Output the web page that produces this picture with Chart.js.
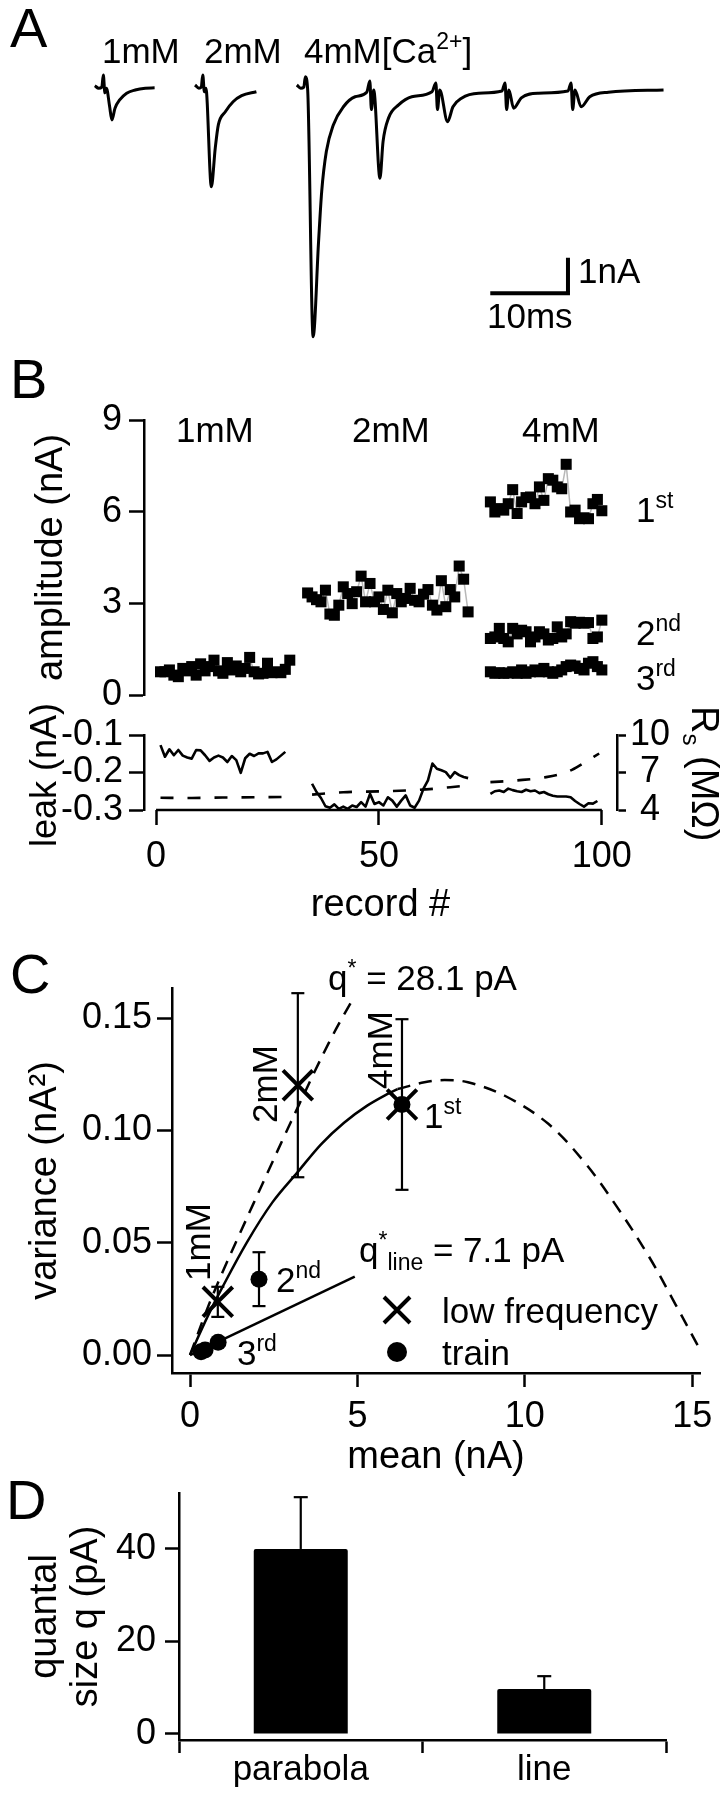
<!DOCTYPE html>
<html>
<head>
<meta charset="utf-8">
<title>Quantal analysis figure</title>
<script src="https://cdn.jsdelivr.net/npm/chart.js@4.4.1/dist/chart.umd.min.js"></script>
<style>
  html, body { margin: 0; padding: 0; background: #fff; }
  #fig { position: relative; width: 725px; height: 1800px; overflow: hidden; }
  #fig canvas { position: absolute; left: 0; }
</style>
</head>
<body>
<div id="fig">
  <canvas id="panelA" width="725" height="360" style="top:0px"></canvas>
  <canvas id="panelB1" width="725" height="370" style="top:360px"></canvas>
  <canvas id="panelB2" width="725" height="230" style="top:700px"></canvas>
  <canvas id="panelC" width="725" height="560" style="top:930px"></canvas>
  <canvas id="panelD" width="725" height="345" style="top:1455px"></canvas>
</div>
<script>
// ---------- A: example EPSC traces (time in ms, current in nA) ----------
const trace1mmT = [12.2, 12.7, 13.1, 13.3, 13.5, 13.7, 14.1, 14.4, 14.8, 15.4, 16.3, 17.4, 18.7, 19.9];
const trace1mmI = [0.12, 0.05, 0.08, 0.42, -0.08, 0.05, -0.45, -0.84, -0.51, -0.28, -0.09, 0.0, 0.05, 0.06];
const trace2mmT = [25.1, 25.6, 25.9, 26.1, 26.3, 26.5, 27.2, 27.7, 28.1, 29.0, 30.0, 31.1, 33.0];
const trace2mmI = [0.14, 0.05, 0.08, 0.42, -0.05, 0.05, -2.72, -1.64, -0.98, -0.61, -0.33, -0.16, -0.05];
const trace4mmT = [38.2, 38.7, 39.1, 39.3, 39.6, 40.3, 41.0, 41.4, 42.0, 42.9, 44.2, 45.7, 47.2,
  47.6, 47.8, 48.1, 48.9, 49.3, 50.0, 51.3, 53.0, 55.6,
  56.1, 56.3, 56.6, 57.6, 58.3, 59.4, 61.6, 64.6,
  65.0, 65.2, 65.5, 66.1, 67.1, 69.3, 73.1,
  73.5, 73.7, 74.0, 74.8, 75.9, 78.3, 85.4];
const trace4mmI = [0.14, 0.05, 0.08, 0.37, 0.0, -6.93, -4.26, -2.86, -1.73, -0.98, -0.47, -0.19, -0.06,
  0.25, -0.55, 0.0, -2.48, -1.45, -0.79, -0.42, -0.19, -0.05,
  0.2, -0.55, 0.0, -0.89, -0.47, -0.23, -0.09, -0.03,
  0.2, -0.55, 0.0, -0.51, -0.22, -0.09, -0.03,
  0.2, -0.55, 0.0, -0.47, -0.19, -0.06, 0.0];
const scaleBarT = [63.1, 73.1, 73.1];   // 10 ms
const scaleBarI = [-5.71, -5.71, -4.71]; // 1 nA

// ---------- B: amplitudes per record ----------
const amp1mmRec = [1,2,3,4,5,6,7,8,9,10,11,12,13,14,15,16,17,18,19,20,21,22,23,24,25,26,27,28,29,30];
const amp1mmVal = [0.76,0.76,0.82,0.65,0.60,0.87,0.79,0.93,0.65,1.02,0.79,0.93,1.14,0.79,0.71,1.06,0.82,0.95,0.76,0.87,1.23,0.76,0.69,0.71,1.04,0.73,0.76,0.73,0.84,1.14];
const amp2mmRec = [34,35,36,37,38,39,40,41,42,43,44,45,46,47,48,49,50,51,52,53,54,55,56,57,58,59,60,61,62,63,64,65,66,67,68,69,70];
const amp2mmVal = [3.34,3.21,3.12,3.05,3.43,2.65,2.61,2.94,3.54,3.32,2.99,3.38,3.89,3.05,3.65,3.05,3.21,2.80,3.43,2.69,3.32,3.05,3.16,3.49,3.10,3.05,3.30,3.45,2.94,2.78,3.74,2.89,3.45,3.21,4.22,3.79,2.72];
const amp4mmRec = [75,76,77,78,79,80,81,82,83,84,85,86,87,88,89,90,91,92,93,94,95,96,97,98,99,100];
const amp4mm1st = [6.32,5.99,6.10,6.05,6.26,6.72,5.94,6.32,6.46,6.48,6.26,6.81,6.37,7.08,7.03,6.81,6.75,7.55,5.99,6.05,5.77,5.80,5.77,6.26,6.40,6.03];
const amp4mm2nd = [1.85,1.90,2.18,1.85,1.74,2.18,2.00,2.12,2.07,1.74,1.90,2.07,2.00,1.80,1.85,2.23,1.90,2.00,2.40,2.35,2.38,2.35,2.37,1.85,1.90,2.45];
const amp4mm3rd = [0.76,0.71,0.73,0.71,0.72,0.76,0.71,0.82,0.71,0.76,0.82,0.76,0.87,0.76,0.71,0.76,0.82,0.93,0.98,0.95,0.87,0.82,1.04,1.09,0.93,0.82];
const ampTicks = [0, 3, 6, 9];

// ---------- B: leak current (nA) and series resistance (MOhm) ----------
const leak1Rec = [1,2,3,4,5,6,7,8,9,10,11,12,13,14,15,16,17,18,19,20,21,22,23,24,25,26,27,28,29];
const leak1Val = [-0.127,-0.158,-0.138,-0.154,-0.140,-0.155,-0.160,-0.163,-0.140,-0.141,-0.154,-0.169,-0.160,-0.155,-0.160,-0.172,-0.156,-0.167,-0.201,-0.162,-0.150,-0.156,-0.149,-0.149,-0.145,-0.172,-0.165,-0.155,-0.145];
const leak2Rec = [35,36,37,38,39,40,41,42,43,44,45,46,47,48,49,50,51,52,53,54,55,56,57,58,59,60,61,62,63,64,65,66,67,68,69,70];
const leak2Val = [-0.230,-0.252,-0.268,-0.290,-0.294,-0.285,-0.297,-0.291,-0.297,-0.288,-0.292,-0.279,-0.291,-0.257,-0.284,-0.279,-0.288,-0.266,-0.275,-0.291,-0.275,-0.261,-0.288,-0.294,-0.275,-0.243,-0.221,-0.176,-0.190,-0.194,-0.199,-0.214,-0.199,-0.207,-0.212,-0.215];
const leak3Rec = [75,76,77,78,79,80,81,82,83,84,85,86,87,88,89,90,91,92,93,94,95,96,97,98,99];
const leak3Val = [-0.257,-0.250,-0.248,-0.252,-0.243,-0.247,-0.250,-0.252,-0.246,-0.250,-0.248,-0.255,-0.252,-0.258,-0.262,-0.264,-0.264,-0.264,-0.266,-0.276,-0.284,-0.291,-0.282,-0.283,-0.276];
const rs1Rec = [1, 8, 15, 22, 29];
const rs1Val = [4.98, 4.96, 5.0, 5.02, 5.04];
const rs2Rec = [35, 42, 51, 59, 66, 70];
const rs2Val = [5.23, 5.42, 5.50, 5.61, 5.82, 5.96];
const rs3Rec = [75, 81, 87.5, 92.7, 95.7, 99.4];
const rs3Val = [6.23, 6.37, 6.63, 7.12, 7.71, 8.52];
const recTicks = [0, 50, 100];
const leakTicks = [-0.3, -0.2, -0.1];
const rsTicks = [4, 7, 10];

// ---------- C: variance vs mean ----------
const lowFreqMean = [0.83, 3.22, 6.33];
const lowFreqVar = [0.0237, 0.1202, 0.1116];
const lowFreqErr = [0.0067, 0.041, 0.038];
const trainMean = [6.33, 2.06, 0.84, 0.45, 0.33];
const trainVar = [0.1116, 0.0338, 0.0057, 0.0022, 0.0015];
const trainErr = [0, 0.012, 0, 0, 0];
const fitLowX = [0, 0.52, 0.96, 1.44, 1.88, 2.37, 2.80, 3.24, 3.73, 4.16, 4.50, 4.88];
const fitLowY = [0, 0.0208, 0.0365, 0.0525, 0.0670, 0.0830, 0.0970, 0.1110, 0.1265, 0.1395, 0.1490, 0.1590];
const fitTrainX = [0, 0.52, 0.96, 1.69, 2.46, 3.22, 3.92, 4.60, 5.28, 5.96, 6.20];
const fitTrainY = [0, 0.017, 0.030, 0.050, 0.068, 0.0816, 0.094, 0.1035, 0.111, 0.1168, 0.1185];
const fitTrainExtX = [6.20, 7.00, 7.60, 8.30, 9.40, 10.7, 11.8, 12.75, 13.7, 14.5, 15.19];
const fitTrainExtY = [0.1185, 0.1215, 0.1225, 0.1215, 0.1155, 0.1030, 0.0855, 0.0660, 0.0440, 0.0225, 0.0035];
const fitLineX = [0, 4.92];
const fitLineY = [0, 0.0349];
const meanTicks = [0, 5, 10, 15];
const varTicks = [0, 0.05, 0.10, 0.15];

// ---------- D: quantal size ----------
const qMethods = ['parabola', 'line'];
const qValues = [40, 9.7];
const qErrors = [11.2, 2.8];
const qTicks = [0, 20, 40];

// ---------- shared helpers ----------
const FONT = "'Liberation Sans', Arial, Helvetica, sans-serif";
const INK = '#000';
const AXW = 2.5;
const TICKF = 36, TITLEF = 38;
Chart.defaults.font.family = FONT;
Chart.defaults.font.size = TICKF;
Chart.defaults.color = INK;
Chart.defaults.animation = false;
Chart.defaults.responsive = false;
Chart.defaults.maintainAspectRatio = false;
Chart.defaults.events = [];
Chart.defaults.plugins.legend.display = false;
Chart.defaults.plugins.tooltip.enabled = false;

const pts = (xs, ys) => xs.map((x, i) => ({ x: x, y: ys[i] }));
const setTicks = vals => s => { s.ticks = vals.map(v => ({ value: v })); };
// fixed box size so the plot area lands where the figure has it
function fixBox(w, h) {
  return s => {
    if (w != null) s.width = w;
    if (h != null) s.height = h;
    s.paddingLeft = s.paddingRight = s.paddingTop = s.paddingBottom = 0;
  };
}
function axisLook(tickLen, pad, size) {
  return {
    border: { display: true, color: INK, width: AXW },
    grid: { drawOnChartArea: false, drawTicks: true, tickLength: tickLen, tickWidth: AXW, tickColor: INK },
    ticks: { color: INK, padding: pad, maxRotation: 0, autoSkip: false, font: { size: size || TICKF } }
  };
}
const axisTitle = (text, pad) => ({ display: true, text: text, color: INK, font: { size: TITLEF }, padding: pad });

// text with super/subscripts: parts = [text, size, dy]
function drawRich(ctx, item, top) {
  ctx.save();
  ctx.translate(item.x, item.y - top);
  if (item.rot) ctx.rotate(item.rot);
  ctx.fillStyle = INK;
  ctx.textBaseline = 'alphabetic';
  ctx.textAlign = 'left';
  let w = 0;
  item.parts.forEach(p => { ctx.font = p[1] + 'px ' + FONT; w += ctx.measureText(p[0]).width; });
  let x = item.align === 'center' ? -w / 2 : 0;
  const shift = item.mid ? 0.36 * item.parts[0][1] : 0;
  item.parts.forEach(p => {
    ctx.font = p[1] + 'px ' + FONT;
    ctx.fillText(p[0], x, (p[2] || 0) + shift);
    x += ctx.measureText(p[0]).width;
  });
  ctx.restore();
}
function textLayer(top, items) {
  return { id: 'textLayer', afterDraw(chart) { items.forEach(it => drawRich(chart.ctx, it, top)); } };
}
const N = 35, SM = 23, BIG = 56;
const sup = t => [t, SM, -14];
const sub = t => [t, SM, 8];

// ---------- Panel A ----------
function traceSet(ts, is) {
  return { data: pts(ts, is), borderColor: INK, borderWidth: 3, pointRadius: 0,
           cubicInterpolationMode: 'monotone', borderJoinStyle: 'round', clip: false };
}
new Chart(document.getElementById('panelA'), {
  type: 'line',
  data: { datasets: [
    traceSet(trace1mmT, trace1mmI),
    traceSet(trace2mmT, trace2mmI),
    traceSet(trace4mmT, trace4mmI),
    { data: pts(scaleBarT, scaleBarI), borderColor: INK, borderWidth: 4, pointRadius: 0, tension: 0, clip: false }
  ] },
  options: {
    layout: { padding: 0 },
    scales: {
      x: { type: 'linear', display: false, min: 0, max: 93.31 },
      y: { type: 'linear', display: false, min: -7.584, max: 2.528 }
    }
  },
  plugins: [textLayer(0, [
    { x: 10, y: 47, parts: [['A', BIG]] },
    { x: 102, y: 63, parts: [['1mM', N]] },
    { x: 204, y: 63, parts: [['2mM', N]] },
    { x: 304, y: 63, parts: [['4mM[Ca', N], sup('2+'), [']', N]] },
    { x: 578, y: 283, parts: [['1nA', N]] },
    { x: 487, y: 328, parts: [['10ms', N]] }
  ])]
});

// ---------- Panel B, amplitudes ----------
const recMin = -2.7, recMax = 103.4;
function ampSet(recs, vals) {
  return { data: pts(recs, vals), borderColor: '#b8b8b8', borderWidth: 1.5, tension: 0,
           pointStyle: 'rect', pointRadius: 7.8, pointBorderWidth: 0,
           pointBackgroundColor: INK, pointBorderColor: INK, clip: false };
}
const b1Y = axisLook(15, 7);
new Chart(document.getElementById('panelB1'), {
  type: 'line',
  data: { datasets: [
    ampSet(amp1mmRec, amp1mmVal), ampSet(amp2mmRec, amp2mmVal),
    ampSet(amp4mmRec, amp4mm1st), ampSet(amp4mmRec, amp4mm2nd), ampSet(amp4mmRec, amp4mm3rd)
  ] },
  options: {
    layout: { padding: { left: 0, top: 60, right: 108, bottom: 35 } },
    scales: {
      x: { type: 'linear', display: false, min: recMin, max: recMax },
      y: Object.assign({}, b1Y, {
        type: 'linear', min: 0, max: 9,
        afterFit: fixBox(144, null), afterBuildTicks: setTicks(ampTicks),
        title: axisTitle('amplitude (nA)', { top: 29 })
      })
    }
  },
  plugins: [textLayer(360, [
    { x: 10, y: 398, parts: [['B', BIG]] },
    { x: 176, y: 442, parts: [['1mM', N]] },
    { x: 352, y: 442, parts: [['2mM', N]] },
    { x: 522, y: 442, parts: [['4mM', N]] },
    { x: 636, y: 522, parts: [['1', N], sup('st')] },
    { x: 636, y: 645, parts: [['2', N], sup('nd')] },
    { x: 636, y: 690, parts: [['3', N], sup('rd')] }
  ])]
});

// ---------- Panel B, leak and Rs ----------
function leakSet(recs, vals) {
  return { data: pts(recs, vals), yAxisID: 'y', borderColor: INK, borderWidth: 2.6, pointRadius: 0,
           tension: 0, borderJoinStyle: 'round', clip: false };
}
function rsSet(recs, vals) {
  return { data: pts(recs, vals), yAxisID: 'y2', borderColor: INK, borderWidth: 2.6, pointRadius: 0,
           borderDash: [13, 14], cubicInterpolationMode: 'monotone', clip: false };
}
const b2X = axisLook(15, 10);
b2X.border = { display: false };
const recordBaseline = {
  id: 'recordBaseline',
  afterDraw(chart) {
    const x = chart.scales.x, ctx = chart.ctx;
    ctx.save();
    ctx.strokeStyle = INK; ctx.lineWidth = AXW;
    ctx.beginPath();
    ctx.moveTo(x.getPixelForValue(recTicks[0]), chart.chartArea.bottom);
    ctx.lineTo(x.getPixelForValue(recTicks[recTicks.length - 1]), chart.chartArea.bottom);
    ctx.stroke();
    ctx.restore();
  }
};
const b2Y = axisLook(15, 6);
const b2Y2 = axisLook(9, 4);
b2Y2.ticks.crossAlign = 'center';
new Chart(document.getElementById('panelB2'), {
  type: 'line',
  data: { datasets: [
    leakSet(leak1Rec, leak1Val), leakSet(leak2Rec, leak2Val), leakSet(leak3Rec, leak3Val),
    rsSet(rs1Rec, rs1Val), rsSet(rs2Rec, rs2Val), rsSet(rs3Rec, rs3Val)
  ] },
  options: {
    layout: { padding: { left: 0, top: 35, right: 0, bottom: 0 } },
    scales: {
      x: Object.assign({}, b2X, {
        type: 'linear', min: recMin, max: recMax,
        afterFit: fixBox(null, 120), afterBuildTicks: setTicks(recTicks),
        title: axisTitle('record #', { bottom: 2 })
      }),
      y: Object.assign({}, b2Y, {
        type: 'linear', position: 'left', min: -0.3, max: -0.1,
        afterFit: fixBox(144, null), afterBuildTicks: setTicks(leakTicks)
      }),
      y2: Object.assign({}, b2Y2, {
        type: 'linear', position: 'right', min: 4, max: 10,
        afterFit: fixBox(108, null), afterBuildTicks: setTicks(rsTicks)
      })
    }
  },
  // the leak title is longer than its short axis, so it is drawn here instead of being squeezed
  plugins: [recordBaseline, textLayer(700, [
    { x: 43, y: 775, rot: -Math.PI / 2, align: 'center', mid: true, parts: [['leak (nA)', 36]] },
    { x: 692, y: 706, rot: Math.PI / 2, parts: [['R', TITLEF], ['s', 24, 9], [' (M\u03A9)', TITLEF]] }
  ])]
});

// ---------- Panel C ----------
function errorBars(xs, ys, es) {
  return xs.map((x, i) => ({ x: x, y: ys[i], e: es[i] })).filter(p => p.e > 0).map(p => ({
    data: [{ x: p.x, y: p.y - p.e }, { x: p.x, y: p.y + p.e }],
    borderColor: INK, borderWidth: 2.2, pointStyle: 'line', pointRadius: 6.5, pointBorderWidth: 2.2,
    pointBorderColor: INK, pointBackgroundColor: INK, order: 1, clip: false
  }));
}
function curve(xs, ys, dashed) {
  return { data: pts(xs, ys), borderColor: INK, borderWidth: 2.5, pointRadius: 0,
           borderDash: dashed ? [13, 9] : [], tension: 0.35, order: 2, clip: false };
}
const legendC = {
  id: 'legendC',
  afterDraw(chart) {
    const ctx = chart.ctx, top = 930, cx = 397, r = 13;
    ctx.save();
    ctx.strokeStyle = INK; ctx.fillStyle = INK; ctx.lineWidth = 4;
    let cy = 1310 - top;
    ctx.beginPath();
    ctx.moveTo(cx - r, cy - r); ctx.lineTo(cx + r, cy + r);
    ctx.moveTo(cx - r, cy + r); ctx.lineTo(cx + r, cy - r);
    ctx.stroke();
    cy = 1352 - top;
    ctx.beginPath(); ctx.arc(cx, cy, 10, 0, Math.PI * 2); ctx.fill();
    ctx.restore();
  }
};
const cX = axisLook(14, 8);
const cY = axisLook(15, 5);
new Chart(document.getElementById('panelC'), {
  type: 'line',
  data: { datasets: [
    { data: pts(lowFreqMean, lowFreqVar), showLine: false, pointStyle: 'crossRot', pointRadius: 21,
      pointBorderWidth: 4, pointBorderColor: INK, pointBackgroundColor: INK, order: 0, clip: false },
    { data: pts(trainMean, trainVar), showLine: false, pointStyle: 'circle', pointRadius: 8.5,
      pointBorderWidth: 0, pointBackgroundColor: INK, order: 0, clip: false },
    ...errorBars(lowFreqMean, lowFreqVar, lowFreqErr),
    ...errorBars(trainMean, trainVar, trainErr),
    curve(fitLowX, fitLowY, true),
    curve(fitTrainX, fitTrainY, false),
    curve(fitTrainExtX, fitTrainExtY, true),
    Object.assign(curve(fitLineX, fitLineY, false), { tension: 0 })
  ] },
  options: {
    layout: { padding: { left: 0, top: 58, right: 11, bottom: 0 } },
    scales: {
      x: Object.assign({}, cX, {
        type: 'linear', min: -0.538, max: 15.23,
        afterFit: fixBox(null, 117), afterBuildTicks: setTicks(meanTicks),
        title: axisTitle('mean (nA)', { bottom: 10 })
      }),
      y: Object.assign({}, cY, {
        type: 'linear', min: -0.008, max: 0.1635,
        afterFit: fixBox(172, null), afterBuildTicks: setTicks(varTicks),
        ticks: Object.assign({}, cY.ticks, { callback: v => v.toFixed(2) }),
        title: axisTitle('variance (nA\u00B2)', { top: 23 })
      })
    }
  },
  plugins: [legendC, textLayer(930, [
    { x: 10, y: 993, parts: [['C', BIG]] },
    { x: 328, y: 990, parts: [['q', N], sup('*'), [' = 28.1 pA', N]] },
    { x: 264, y: 1084, rot: -Math.PI / 2, align: 'center', mid: true, parts: [['2mM', N]] },
    { x: 379, y: 1050, rot: -Math.PI / 2, align: 'center', mid: true, parts: [['4mM', N]] },
    { x: 197, y: 1242, rot: -Math.PI / 2, align: 'center', mid: true, parts: [['1mM', N]] },
    { x: 424, y: 1128, parts: [['1', N], sup('st')] },
    { x: 276, y: 1292, parts: [['2', N], sup('nd')] },
    { x: 237, y: 1365, parts: [['3', N], sup('rd')] },
    { x: 359, y: 1262, parts: [['q', N], ['*', SM, -14], ['line', SM, 8], [' = 7.1 pA', N]] },
    { x: 442, y: 1310, mid: true, parts: [['low frequency', N]] },
    { x: 442, y: 1352, mid: true, parts: [['train', N]] }
  ])]
});

// ---------- Panel D ----------
const dX = axisLook(13, -4, 35);
dX.grid.offset = true;
const dY = axisLook(14, 9);
new Chart(document.getElementById('panelD'), {
  type: 'bar',
  data: {
    labels: qMethods,
    datasets: [
      { data: qValues, backgroundColor: INK, borderWidth: 0, borderRadius: 2,
        barPercentage: 0.386, categoryPercentage: 1, order: 1 },
      ...qMethods.map((m, i) => ({
        type: 'line', data: [{ x: m, y: qValues[i] }, { x: m, y: qValues[i] + qErrors[i] }],
        borderColor: INK, borderWidth: 2.2, pointStyle: 'line', pointRadius: [0, 7],
        pointBorderWidth: 2.2, pointBorderColor: INK, order: 0, clip: false
      }))
    ]
  },
  options: {
    layout: { padding: { left: 0, top: 38, right: 59, bottom: 0 } },
    scales: {
      x: Object.assign({}, dX, { type: 'category', offset: true, afterFit: fixBox(null, 60) }),
      y: Object.assign({}, dY, {
        type: 'linear', min: -1.3, max: 52.1,
        afterFit: fixBox(179, null), afterBuildTicks: setTicks(qTicks),
        title: { display: true, text: ['quantal', 'size q (pA)'], color: INK,
                 font: { size: TITLEF, lineHeight: 1.053 }, padding: { top: 26 } }
      })
    }
  },
  plugins: [textLayer(1455, [
    { x: 6, y: 1519, parts: [['D', BIG]] }
  ])]
});
</script>
</body>
</html>
